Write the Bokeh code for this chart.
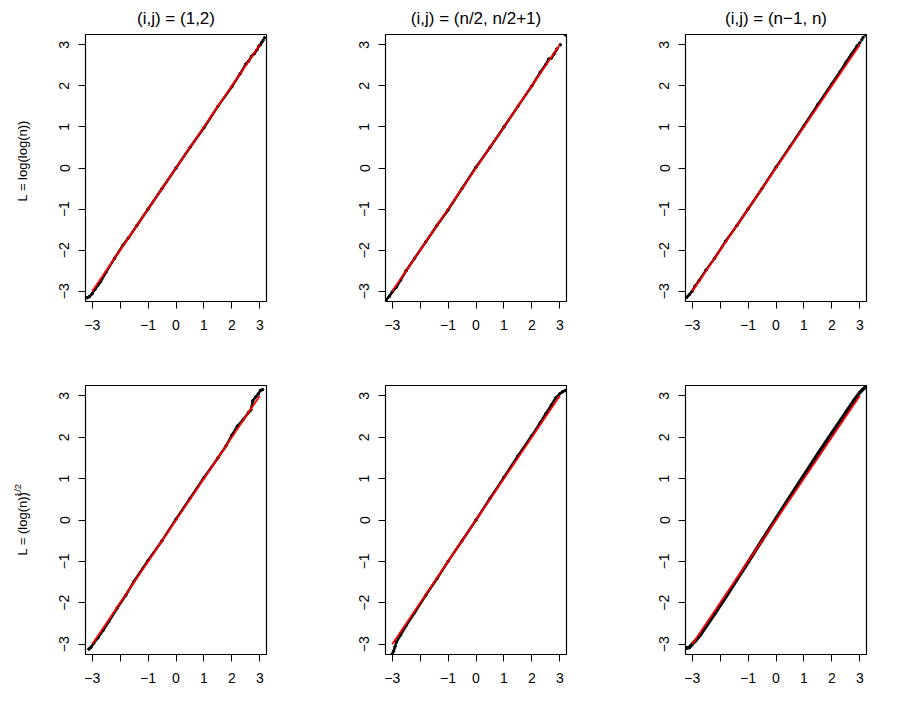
import math
from bokeh.plotting import figure
from bokeh.layouts import column, row
from bokeh.models import Range1d, FixedTicker
from bokeh.core.properties import value
from bokeh.embed import file_html
from bokeh.resources import INLINE

# ---------------- data ----------------
titles = ["(i,j) = (1,2)", "(i,j) = (n/2, n/2+1)", "(i,j) = (n\u22121, n)"]
row_labels = ["L = log(log(n))", "L = (log(n))"]
row_label_sup = ["", "1/2"]

ticks = [-3, -2, -1, 0, 1, 2, 3]
x_tick_labels = ["\u22123", "", "\u22121", "0", "1", "2", "3"]
y_tick_labels = ["\u22123", "\u22122", "\u22121", "0", "1", "2", "3"]

ref_x = [-3, 3]
ref_y = [-3, 3]

# panel 1: L = log(log(n)), (i,j) = (1,2)
p1_theo = [-3.18, -3.1, -3.0, -2.9, -2.8, -2.7, -2.5, -2.2, -1.9, -1.7, -1.4, -1.0, -0.5, 0.0, 0.5, 1.0, 1.5, 2.0, 2.3, 2.5, 2.6, 2.7, 2.8, 2.9, 2.97]
p1_samp = [-3.16, -3.13, -3.06, -2.95, -2.86, -2.77, -2.53, -2.2, -1.88, -1.7, -1.4, -1.0, -0.5, 0.0, 0.5, 0.98, 1.5, 1.98, 2.3, 2.53, 2.6, 2.72, 2.78, 2.88, 2.97]
p1_tail_theo = [3.02, 3.07, 3.12, 3.17]
p1_tail_samp = [3.0, 3.06, 3.11, 3.17]

# panel 2: (i,j) = (n/2, n/2+1)
p2_theo = [-3.22, -3.1, -3.0, -2.85, -2.7, -2.5, -2.2, -1.8, -1.4, -1.0, -0.5, 0.0, 0.5, 1.0, 1.5, 2.0, 2.3, 2.5, 2.6, 2.7, 2.8, 2.9]
p2_samp = [-3.22, -3.12, -3.02, -2.9, -2.73, -2.5, -2.2, -1.8, -1.4, -1.02, -0.5, 0.02, 0.5, 1.0, 1.5, 2.0, 2.33, 2.52, 2.65, 2.68, 2.78, 2.9]
p2_tail_theo = [3.02, 3.2]
p2_tail_samp = [3.0, 3.24]

# panel 3: (i,j) = (n-1, n)
p3_theo = [-3.2, -3.1, -3.0, -2.9, -2.75, -2.5, -2.2, -1.8, -1.4, -1.0, -0.5, 0.0, 0.5, 1.0, 1.5, 2.0, 2.3, 2.5, 2.7, 2.9, 3.0]
p3_samp = [-3.15, -3.08, -3.0, -2.88, -2.74, -2.48, -2.2, -1.78, -1.4, -1.0, -0.5, 0.02, 0.52, 1.03, 1.55, 2.05, 2.35, 2.57, 2.77, 2.97, 3.05]
p3_tail_theo = [3.07, 3.12, 3.2]
p3_tail_samp = [3.12, 3.18, 3.24]

# panel 4: L = (log(n))^(1/2), (i,j) = (1,2)
p4_theo = [-3.12, -3.05, -2.95, -2.8, -2.6, -2.4, -2.1, -1.8, -1.5, -1.0, -0.5, 0.0, 0.5, 1.0, 1.5, 1.8, 2.0, 2.2, 2.4, 2.6, 2.68, 2.75, 2.85, 2.95, 3.02, 3.1]
p4_samp = [-3.12, -3.08, -2.98, -2.85, -2.66, -2.45, -2.12, -1.82, -1.48, -0.98, -0.5, 0.02, 0.52, 1.02, 1.5, 1.8, 2.05, 2.27, 2.42, 2.6, 2.66, 2.88, 2.97, 3.05, 3.13, 3.15]
p4_tail_theo = []
p4_tail_samp = []

# panel 5: (i,j) = (n/2, n/2+1)
p5_theo = [-3.0, -2.95, -2.9, -2.85, -2.7, -2.5, -2.2, -1.8, -1.4, -1.0, -0.5, 0.0, 0.5, 1.0, 1.5, 2.0, 2.3, 2.5, 2.7, 2.85, 3.0, 3.1, 3.2]
p5_samp = [-3.24, -3.17, -3.06, -2.95, -2.78, -2.55, -2.24, -1.82, -1.42, -1.0, -0.5, 0.0, 0.52, 1.03, 1.55, 2.04, 2.35, 2.57, 2.78, 2.95, 3.05, 3.1, 3.13]
p5_tail_theo = []
p5_tail_samp = []

# panel 6: (i,j) = (n-1, n)
p6_theo = [-3.22, -3.1, -3.0, -2.9, -2.7, -2.5, -2.2, -1.8, -1.4, -1.0, -0.5, 0.0, 0.5, 1.0, 1.5, 2.0, 2.5, 2.8, 3.0, 3.1, 3.22]
p6_samp = [-3.1, -3.08, -3.0, -2.93, -2.77, -2.57, -2.27, -1.86, -1.44, -1.02, -0.49, 0.04, 0.56, 1.08, 1.6, 2.1, 2.6, 2.9, 3.08, 3.15, 3.22]
p6_tail_theo = []
p6_tail_samp = []

panels = [
    (p1_theo, p1_samp, p1_tail_theo, p1_tail_samp),
    (p2_theo, p2_samp, p2_tail_theo, p2_tail_samp),
    (p3_theo, p3_samp, p3_tail_theo, p3_tail_samp),
    (p4_theo, p4_samp, p4_tail_theo, p4_tail_samp),
    (p5_theo, p5_samp, p5_tail_theo, p5_tail_samp),
    (p6_theo, p6_samp, p6_tail_theo, p6_tail_samp),
]

FONT = "Liberation Sans"

LABEL_W = 40
col_widths = [300 - LABEL_W, 300, 284]
col_left = [85 - LABEL_W, 85, 85]
row_heights = [352, 340]
row_top = [33, 33]
frame_w = 181
frame_h = [268, 269]
line_widths = [2.5, 2.5, 2.5, 2.5, 2.5, 3.5]


def make_panel(idx):
    r, c = divmod(idx, 3)
    w, h = col_widths[c], row_heights[r]
    left, top = col_left[c], row_top[r]
    right = w - left - frame_w
    bottom = h - top - frame_h[r]
    p = figure(width=w, height=h,
               x_range=Range1d(-3.24, 3.24), y_range=Range1d(-3.25, 3.25),
               output_backend="svg", toolbar_location=None,
               min_border_left=left, min_border_right=right,
               min_border_top=top, min_border_bottom=bottom,
               title=titles[c] if r == 0 else None)
    if r == 0:
        p.title.text_font = FONT
        p.title.text_font_size = "17px"
        p.title.text_font_style = "normal"
        p.title.align = "center"
        p.title.standoff = 13
        p.title.text_color = "black"
    p.grid.visible = False
    p.outline_line_color = "black"
    p.outline_line_width = 1.2
    p.outline_line_alpha = 1.0
    p.background_fill_color = "white"
    p.border_fill_color = "white"

    for ax, labels in ((p.xaxis, x_tick_labels), (p.yaxis, y_tick_labels)):
        ax.ticker = FixedTicker(ticks=ticks)
        ax.major_label_overrides = {t: s for t, s in zip(ticks, labels)}
        ax.major_tick_out = 7
        ax.major_tick_in = 0
        ax.minor_tick_out = 0
        ax.minor_tick_in = 0
        ax.axis_line_color = None
        ax.major_tick_line_color = "black"
        ax.major_tick_line_width = 1
        ax.major_label_text_font = FONT
        ax.major_label_text_font_size = "14px"
        ax.major_label_text_color = "black"
    p.xaxis.major_label_standoff = 11
    p.yaxis.major_label_standoff = 9
    p.yaxis.major_label_orientation = "vertical"

    xs, ys, tx, ty = panels[idx]
    p.line(xs, ys, line_color="black", line_width=line_widths[idx])
    p.scatter(xs, ys, size=2.5, marker="circle", line_color="black", fill_color="black")
    if tx:
        p.scatter(tx, ty, size=2.5, marker="circle", line_color="black", fill_color="black")
    p.line(ref_x, ref_y, line_color="#FF0000", line_width=1.8)
    return p


def make_row_label(r):
    h = row_heights[r]
    lf = figure(width=LABEL_W, height=h, x_range=Range1d(0, LABEL_W), y_range=Range1d(0, h),
                output_backend="svg", toolbar_location=None,
                x_axis_type=None, y_axis_type=None,
                min_border_left=0, min_border_right=0, min_border_top=0, min_border_bottom=0)
    lf.outline_line_color = None
    lf.background_fill_color = "white"
    lf.border_fill_color = "white"
    if row_label_sup[r]:
        lf.text(x=[22], y=[h - (567 - 352)], text=[row_labels[r]], angle=math.pi / 2,
                text_align="left", text_baseline="middle", text_font=value(FONT),
                text_font_size="13px", text_color="black")
        lf.text(x=[16.5], y=[h - (493 - 352)], text=[row_label_sup[r]], angle=math.pi / 2,
                text_align="left", text_baseline="middle", text_font=value(FONT),
                text_font_size="9.5px", text_color="black")
    else:
        lf.text(x=[22], y=[h - 166.5], text=[row_labels[r]], angle=math.pi / 2,
                text_align="center", text_baseline="middle", text_font=value(FONT),
                text_font_size="13px", text_color="black")
    return lf


figs = [make_panel(i) for i in range(6)]
layout = column(row(make_row_label(0), *figs[:3]), row(make_row_label(1), *figs[3:]))

with open("out.html", "w") as f:
    f.write(file_html(layout, INLINE))
